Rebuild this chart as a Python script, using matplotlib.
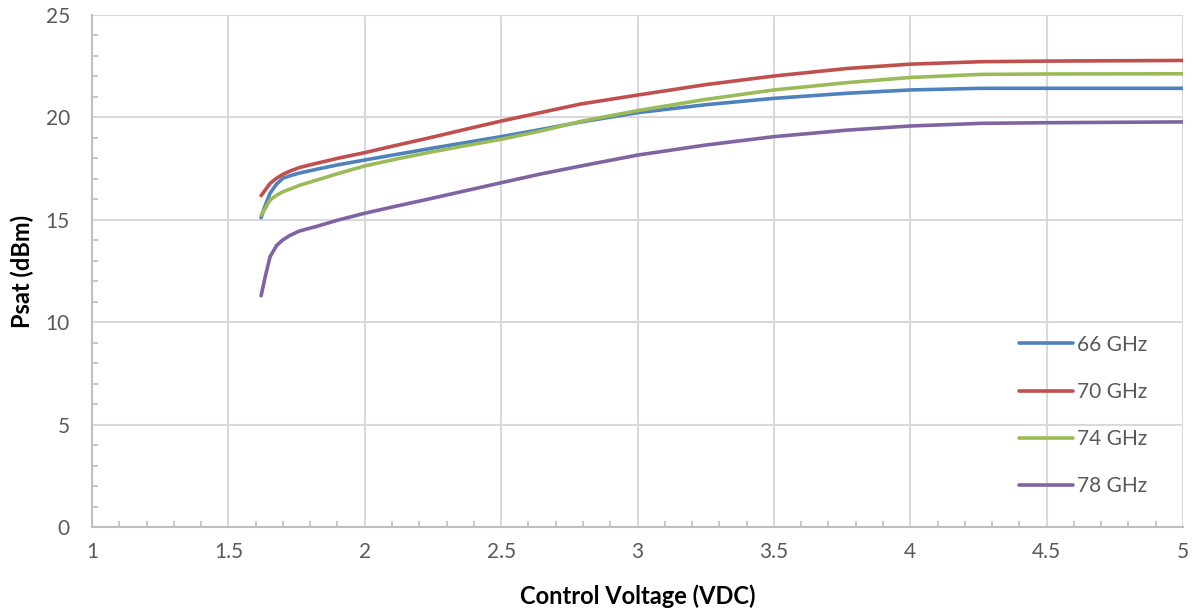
import numpy as np
import matplotlib.pyplot as plt
from matplotlib.ticker import MultipleLocator

# control voltage (VDC) and Psat (dBm)
vdc = [1.62, 1.635, 1.653, 1.677, 1.70, 1.726, 1.76, 1.824, 1.9, 2.0, 2.12, 2.24,
       2.37, 2.5, 2.65, 2.79, 3.0, 3.25, 3.5, 3.77, 4.0, 4.26, 4.5, 5.0]

psat_66 = [15.1, 15.7, 16.3, 16.75, 17.03, 17.15, 17.28, 17.47, 17.68, 17.92, 18.2, 18.48,
           18.77, 19.06, 19.42, 19.77, 20.23, 20.62, 20.93, 21.18, 21.34, 21.42, 21.42, 21.42]
psat_70 = [16.18, 16.45, 16.78, 17.03, 17.22, 17.38, 17.55, 17.76, 18.0, 18.28, 18.65, 19.01,
           19.42, 19.82, 20.25, 20.65, 21.09, 21.6, 22.02, 22.39, 22.6, 22.72, 22.75, 22.78]
psat_74 = [15.23, 15.55, 15.97, 16.2, 16.37, 16.5, 16.68, 16.94, 17.25, 17.63, 17.98, 18.3,
           18.62, 18.93, 19.35, 19.8, 20.33, 20.88, 21.34, 21.7, 21.95, 22.1, 22.12, 22.13]
psat_78 = [11.29, 12.22, 13.2, 13.75, 14.02, 14.24, 14.45, 14.68, 14.98, 15.32, 15.68, 16.03,
           16.42, 16.81, 17.25, 17.62, 18.16, 18.65, 19.06, 19.38, 19.58, 19.71, 19.74, 19.78]

labels = ["66 GHz", "70 GHz", "74 GHz", "78 GHz"]
colors = ["#4f81bd", "#c0504d", "#9bbb59", "#8064a2"]

plt.rcParams['font.family'] = ['Lato', 'DejaVu Sans']

fig = plt.figure(figsize=(11.94, 6.11), dpi=100)
ax = fig.add_axes([92 / 1194, 1 - 527 / 611, (1183 - 92) / 1194, (527 - 15) / 611])

for ys, lab, c in zip([psat_66, psat_70, psat_74, psat_78], labels, colors):
    ax.plot(vdc, ys, color=c, lw=2.6, label=lab, solid_capstyle='round', solid_joinstyle='round')

ax.set_xlim(1, 5)
ax.set_ylim(0, 25)
ax.xaxis.set_major_locator(MultipleLocator(0.5))
ax.xaxis.set_minor_locator(MultipleLocator(0.1))
ax.yaxis.set_major_locator(MultipleLocator(5))
ax.yaxis.set_minor_locator(MultipleLocator(1))
ax.xaxis.set_major_formatter(plt.FuncFormatter(lambda v, p: f"{v:g}"))

ax.grid(True, which='major', color='#d9d9d9', lw=1.5)
ax.set_axisbelow(True)
for s in ['top', 'right']:
    ax.spines[s].set_visible(False)
for s in ['left', 'bottom']:
    ax.spines[s].set_color('#bfbfbf')
    ax.spines[s].set_linewidth(1.5)

ax.tick_params(which='both', direction='in', color='#bfbfbf', labelcolor='#595959', labelsize=15)
ax.tick_params(which='major', length=0, width=1.2)
ax.tick_params(which='minor', length=4, width=1.2)
ax.tick_params(axis='x', pad=11)
ax.tick_params(axis='y', pad=16)

ax.set_xlabel("Control Voltage (VDC)", fontsize=17, fontweight='bold', labelpad=16)
ax.set_ylabel("Psat (dBm)", fontsize=17, fontweight='bold', labelpad=8)

ax.legend(loc='upper left', bbox_to_anchor=(1000 / 1194, 1 - 316 / 611), bbox_transform=fig.transFigure,
          frameon=False, fontsize=15, labelcolor='#595959', handlelength=2.6, handletextpad=0.2,
          labelspacing=1.3)

fig.savefig("out.png", dpi=100)
